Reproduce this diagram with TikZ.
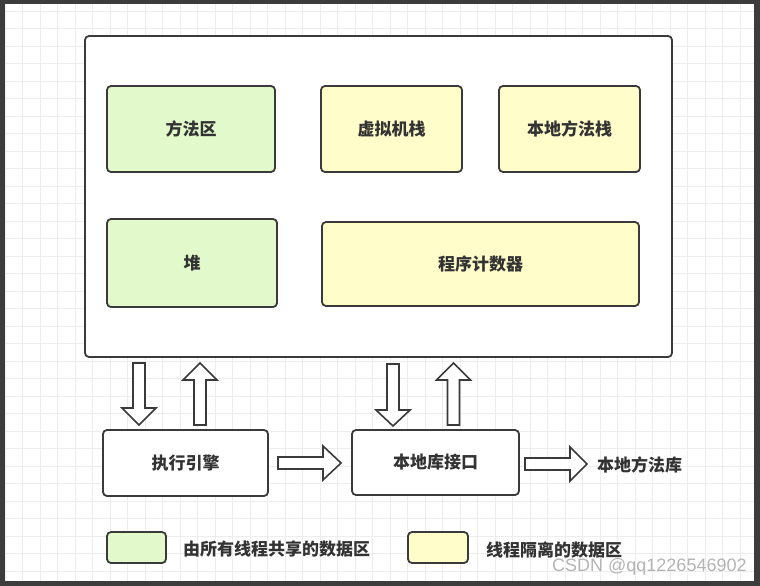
\documentclass[tikz,border=0pt]{standalone}
\usepackage{fontspec}
\newfontfamily\cjk{Noto Sans CJK SC}
\newfontfamily\wmfont{Liberation Sans}
\definecolor{frame}{HTML}{3C3C3C}
\definecolor{edge}{HTML}{3A3A3A}
\definecolor{ink}{HTML}{333333}
\definecolor{gridc}{HTML}{EDEDED}
\definecolor{shared}{HTML}{E1F9CB}
\definecolor{isolated}{HTML}{FFFDC9}
\definecolor{wm}{HTML}{B4B4B4}
\tikzset{
  boxbase/.style={draw=edge, line width=1.8pt, rounded corners=4pt, inner sep=0pt,
    text=ink, font=\cjk\bfseries\fontsize{17}{17}\selectfont},
  sharedbox/.style={boxbase, fill=shared},
  isobox/.style={boxbase, fill=isolated},
  plainbox/.style={boxbase, fill=white},
  barrow/.style={draw=edge, line width=1.6pt, fill=white, line join=miter},
  lbl/.style={text=ink, inner sep=0pt, font=\cjk\bfseries\fontsize{17}{17}\selectfont},
}
\newcommand\myHArrow[4]{% tail x, tip x, centre y, head base x
  \draw[barrow] (#1,#3-6) -- (#4,#3-6) -- (#4,#3-17) -- (#2,#3) -- (#4,#3+17) -- (#4,#3+6) -- (#1,#3+6) -- cycle;}
\newcommand\myVArrow[4]{% centre x, tail y, tip y, head base y
  \draw[barrow] (#1-6,#2) -- (#1-6,#4) -- (#1-17,#4) -- (#1,#3) -- (#1+17,#4) -- (#1+6,#4) -- (#1+6,#2) -- cycle;}
\begin{document}
\begin{tikzpicture}[x=1pt,y=-1pt]
\useasboundingbox (0,0) rectangle (760,586);
% screen frame and grid
\fill[frame] (0,0) rectangle (760,586);
\fill[white] (5,4) rectangle (754,581);
\begin{scope}
\clip (5,4) rectangle (754,581);
\foreach \i in {0,...,43} {\draw[gridc, line width=0.8pt] (5.2+17.5*\i,4) -- (5.2+17.5*\i,581);}
\foreach \j in {0,...,33} {\draw[gridc, line width=0.8pt] (5,11+17.5*\j) -- (754,11+17.5*\j);}
\end{scope}
% main area
\node[plainbox, minimum width=587pt, minimum height=321pt] (main) at (378.5,196.5) {};
\node[sharedbox, minimum width=168pt, minimum height=86pt] (method) at (191,129) {方法区};
\node[isobox, minimum width=141pt, minimum height=86pt] (vmstack) at (391.5,129) {虚拟机栈};
\node[isobox, minimum width=141pt, minimum height=86pt] (nstack) at (569.5,129) {本地方法栈};
\node[sharedbox, minimum width=170pt, minimum height=88pt] (heap) at (192,263) {堆};
\node[isobox, minimum width=317pt, minimum height=84pt] (pc) at (480.5,264) {程序计数器};
% lower row
\node[plainbox, minimum width=165pt, minimum height=66pt] (engine) at (185.5,463) {执行引擎};
\node[plainbox, minimum width=167pt, minimum height=65pt] (jni) at (435.5,462.5) {本地库接口};
\node[lbl, anchor=west] (nlib) at (597,465) {本地方法库};
% block arrows
\myVArrow{139}{363}{425}{408}
\myVArrow{200}{425}{363}{380}
\myVArrow{393}{364}{426}{410}
\myVArrow{453.5}{425}{363}{380}
\myHArrow{278}{341}{463}{323}
\myHArrow{525}{587}{464}{570}
% legend
\node[sharedbox, minimum width=59pt, minimum height=31pt] (legshared) at (136.5,547.5) {};
\node[lbl, anchor=west] (legsharedtxt) at (183,549.5) {由所有线程共享的数据区};
\node[isobox, minimum width=60pt, minimum height=31pt] (legiso) at (438,547.5) {};
\node[lbl, anchor=west] (legisotxt) at (486,549.5) {线程隔离的数据区};
% watermark
\node[anchor=west, inner sep=0pt, text=wm, font=\wmfont\fontsize{18}{18}\selectfont] (wmark) at (552,567) {CSDN @qq1226546902};
\end{tikzpicture}
\end{document}
